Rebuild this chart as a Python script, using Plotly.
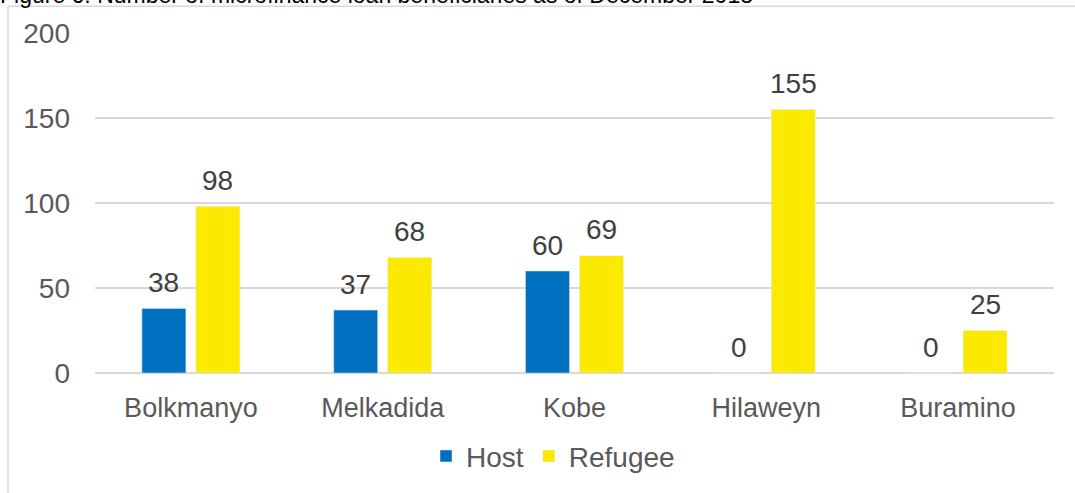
import plotly.graph_objects as go

categories = ["Bolkmanyo", "Melkadida", "Kobe", "Hilaweyn", "Buramino"]
host = [38, 37, 60, 0, 0]
refugee = [98, 68, 69, 155, 25]
y_ticks = [0, 50, 100, 150, 200]
title_text = "Figure 6: Number of microfinance loan beneficiaries as of December 2018"

FONT = "Liberation Sans, Arial, sans-serif"
W, H = 1075, 493
L, R, T, B = 95, 21, 33, 117
pw, ph = W - L - R, H - T - B

def px(x):
    return (x - L) / pw

def py(y):
    return (H - B - y) / ph

fig = go.Figure()
fig.add_trace(go.Bar(name="Host", x=categories, y=host, marker_color="#0070C0"))
fig.add_trace(go.Bar(name="Refugee", x=categories, y=refugee, marker_color="#FBEA00"))

annotations = []
for series, shift in ((host, -27), (refugee, 27)):
    for c, v in zip(categories, series):
        annotations.append(dict(x=c, y=v, xref="x", yref="y", text=str(v), showarrow=False,
                                xshift=shift, yshift=26, yanchor="middle",
                                font=dict(size=28, color="#404040", family=FONT)))
annotations.append(dict(text=title_text, xref="paper", yref="paper", x=px(-2), xanchor="left",
                        y=py(10), yanchor="bottom", showarrow=False,
                        font=dict(size=23, color="#000000", family=FONT)))

fig.update_layout(
    width=W, height=H,
    margin=dict(l=L, r=R, t=T, b=B),
    paper_bgcolor="white", plot_bgcolor="white",
    barmode="group", bargap=0.437, bargroupgap=0.185,
    font=dict(family=FONT, color="#595959", size=28),
    showlegend=True,
    legend=dict(orientation="h", x=px(553), xanchor="center", y=py(460), yanchor="middle",
                font=dict(size=28, color="#595959"), itemwidth=30, traceorder="normal"),
    xaxis=dict(showgrid=False, showline=False, zeroline=False, ticks="",
               tickfont=dict(size=27, color="#595959"), ticklabelstandoff=16),
    yaxis=dict(range=[0, 200], tickvals=y_ticks, showgrid=True, gridcolor="#D9D9D9", gridwidth=1.5,
               zeroline=True, zerolinecolor="#D9D9D9", zerolinewidth=1.5,
               showline=False, ticks="", tickfont=dict(size=28, color="#595959"),
               ticklabelstandoff=24),
    shapes=[
        dict(type="line", xref="paper", yref="paper", x0=px(8), x1=px(8), y0=py(6), y1=py(500),
             line=dict(color="#D9D9D9", width=1.5)),
        dict(type="line", xref="paper", yref="paper", x0=px(8), x1=px(1080), y0=py(6), y1=py(6),
             line=dict(color="#D9D9D9", width=1.5)),
    ],
    annotations=annotations,
)

fig.write_html("out.html")
